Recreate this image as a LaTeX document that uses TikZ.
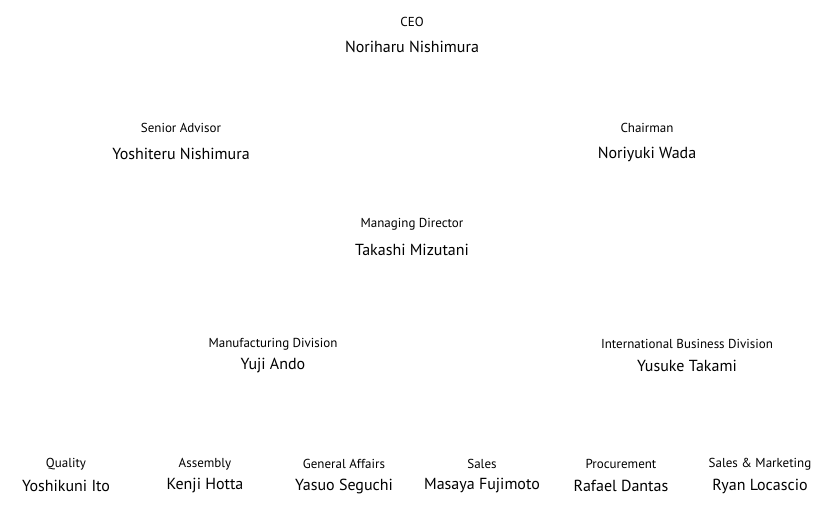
\documentclass[tikz,border=0pt]{standalone}
\usepackage{fontspec}
\setmainfont{PT Sans}
\begin{document}
\begin{tikzpicture}[x=1pt,y=-1pt,
  role/.style={inner sep=0pt,font=\fontsize{13}{15}\selectfont},
  person/.style={inner sep=0pt,font=\fontsize{16}{18}\selectfont}]
\path[use as bounding box,fill=white] (0,0) rectangle (824,509);

% top levels
\node[role]   (ceoT)  at (412, 22) {CEO};
\node[person] (ceo)   at (412, 47) {Noriharu Nishimura};
\node[role]   (advT)  at (181,128) {Senior Advisor};
\node[person] (adv)   at (181,154) {Yoshiteru Nishimura};
\node[role]   (chairT) at (647,128) {Chairman};
\node[person] (chair)  at (647,154) {Noriyuki Wada};
\node[role]   (mdT)   at (412,224) {Managing Director};
\node[person] (md)    at (412,250) {Takashi Mizutani};

% divisions
\node[role]   (mfgT)  at (273,344) {Manufacturing Division};
\node[person] (mfg)   at (273,366) {Yuji Ando};
\node[role]   (intlT) at (687,344) {International Business Division};
\node[person] (intl)  at (687,366) {Yusuke Takami};

% departments
\foreach \x/\r/\p/\n in {66/Quality/Yoshikuni Ito/qa,205/Assembly/Kenji Hotta/asm,
    344/General Affairs/Yasuo Seguchi/ga,482/Sales/Masaya Fujimoto/sales,
    621/Procurement/Rafael Dantas/proc,760/Sales \& Marketing/Ryan Locascio/mkt}{
  \node[role]   (\n T) at (\x,464) {\r};
  \node[person] (\n)   at (\x,486) {\p};
}
\end{tikzpicture}
\end{document}
